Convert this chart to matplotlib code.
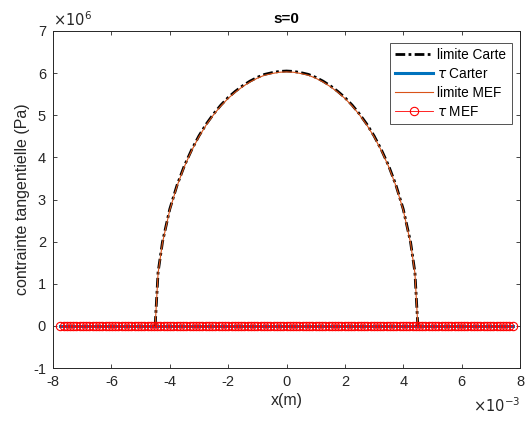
import numpy as np
import matplotlib
matplotlib.use("Agg")
import matplotlib.pyplot as plt
from matplotlib.ticker import FixedLocator

plt.rcParams['font.family'] = ['Liberation Sans', 'DejaVu Sans']

# Contact limit curve (x in m, pressure limit in Pa)
x_lim = np.array([-4.5, -4.4, -4.25, -4.0, -3.75, -3.5, -3.25, -3.0, -2.75, -2.5, -2.25, -2.0,
                  -1.75, -1.5, -1.25, -1.0, -0.75, -0.5, -0.25, 0.0,
                  0.25, 0.5, 0.75, 1.0, 1.25, 1.5, 1.75, 2.0, 2.25, 2.5, 2.75, 3.0,
                  3.25, 3.5, 3.75, 4.0, 4.25, 4.4, 4.5]) * 1e-3
lim_carter = np.array([0.0, 1.27, 1.99, 2.77, 3.34, 3.80, 4.18, 4.51, 4.79, 5.03, 5.24, 5.42,
                       5.57, 5.70, 5.81, 5.90, 5.97, 6.01, 6.04, 6.05,
                       6.04, 6.01, 5.97, 5.90, 5.81, 5.70, 5.57, 5.42, 5.24, 5.03, 4.79, 4.51,
                       4.18, 3.80, 3.34, 2.77, 1.99, 1.27, 0.0]) * 1e6
lim_mef = np.array([0.0, 1.25, 1.97, 2.75, 3.32, 3.78, 4.16, 4.49, 4.77, 5.01, 5.22, 5.40,
                    5.55, 5.68, 5.79, 5.88, 5.95, 5.99, 6.02, 6.03,
                    6.02, 5.99, 5.95, 5.88, 5.79, 5.68, 5.55, 5.40, 5.22, 5.01, 4.77, 4.49,
                    4.16, 3.78, 3.32, 2.75, 1.97, 1.25, 0.0]) * 1e6

# Tangential stress (zero everywhere for s=0)
x_tau_carter = np.array([-7.75e-3, 7.75e-3])
tau_carter = np.array([0.0, 0.0])
x_mef = np.linspace(-7.75e-3, 7.75e-3, 141)   # FE mesh nodes
tau_mef = np.zeros_like(x_mef)

xticks = [-8, -6, -4, -2, 0, 2, 4, 6, 8]
yticks = [-1, 0, 1, 2, 3, 4, 5, 6, 7]

fig = plt.figure(figsize=(5.26, 4.26), dpi=100)
ax = fig.add_axes([53/526, 1-368/426, (520-53)/526, (368-31)/426])

ax.plot(x_lim, lim_carter, color='black', linestyle=(0, (3.5, 1.2, 1.0, 1.2)), lw=2,
        label='limite Carte', zorder=3)
ax.plot(x_tau_carter, tau_carter, color='#0072BD', lw=2.2, label=r'$\tau$ Carter', zorder=2)
ax.plot(x_lim, lim_mef, color='#D95319', lw=0.8, label='limite MEF', zorder=4)
ax.plot(x_mef, tau_mef, color='red', lw=0.6, marker='o', ms=6, mfc='none', mew=0.8,
        label=r'$\tau$ MEF', zorder=5)

ax.set_xlim(-8e-3, 8e-3)
ax.set_ylim(-1e6, 7e6)
ax.xaxis.set_major_locator(FixedLocator([v*1e-3 for v in xticks]))
ax.yaxis.set_major_locator(FixedLocator([v*1e6 for v in yticks]))
ax.set_xticklabels([str(v) for v in xticks])
ax.set_yticklabels([str(v) for v in yticks])
ax.tick_params(direction='in', length=3, width=0.6, colors='#262626', labelsize=10.5,
               top=True, right=True, labeltop=False, labelright=False, pad=5)
for s in ax.spines.values():
    s.set_color('#262626')
    s.set_linewidth(0.7)

ax.set_xlabel('x(m)', fontsize=11.5, color='#262626', labelpad=3)
ax.set_ylabel('contrainte tangentielle (Pa)', fontsize=11.5, color='#262626', labelpad=2)
ax.set_title('s=0', fontsize=11, fontweight='bold', pad=6)

ax.text(0.0, 1.005, r'$\times10^{6}$', transform=ax.transAxes, fontsize=10.5,
        color='#262626', ha='left', va='bottom')
ax.text(1.0, -0.085, r'$\times10^{-3}$', transform=ax.transAxes, fontsize=10.5,
        color='#262626', ha='right', va='top')

leg = ax.legend(loc='upper right', bbox_to_anchor=(0.982, 0.965), fontsize=9.8,
                frameon=True, fancybox=False, edgecolor='#262626', handlelength=2.8,
                borderpad=0.4, labelspacing=0.35, handletextpad=0.3, borderaxespad=0)
leg.get_frame().set_linewidth(0.7)

fig.savefig('out.png', dpi=100)
